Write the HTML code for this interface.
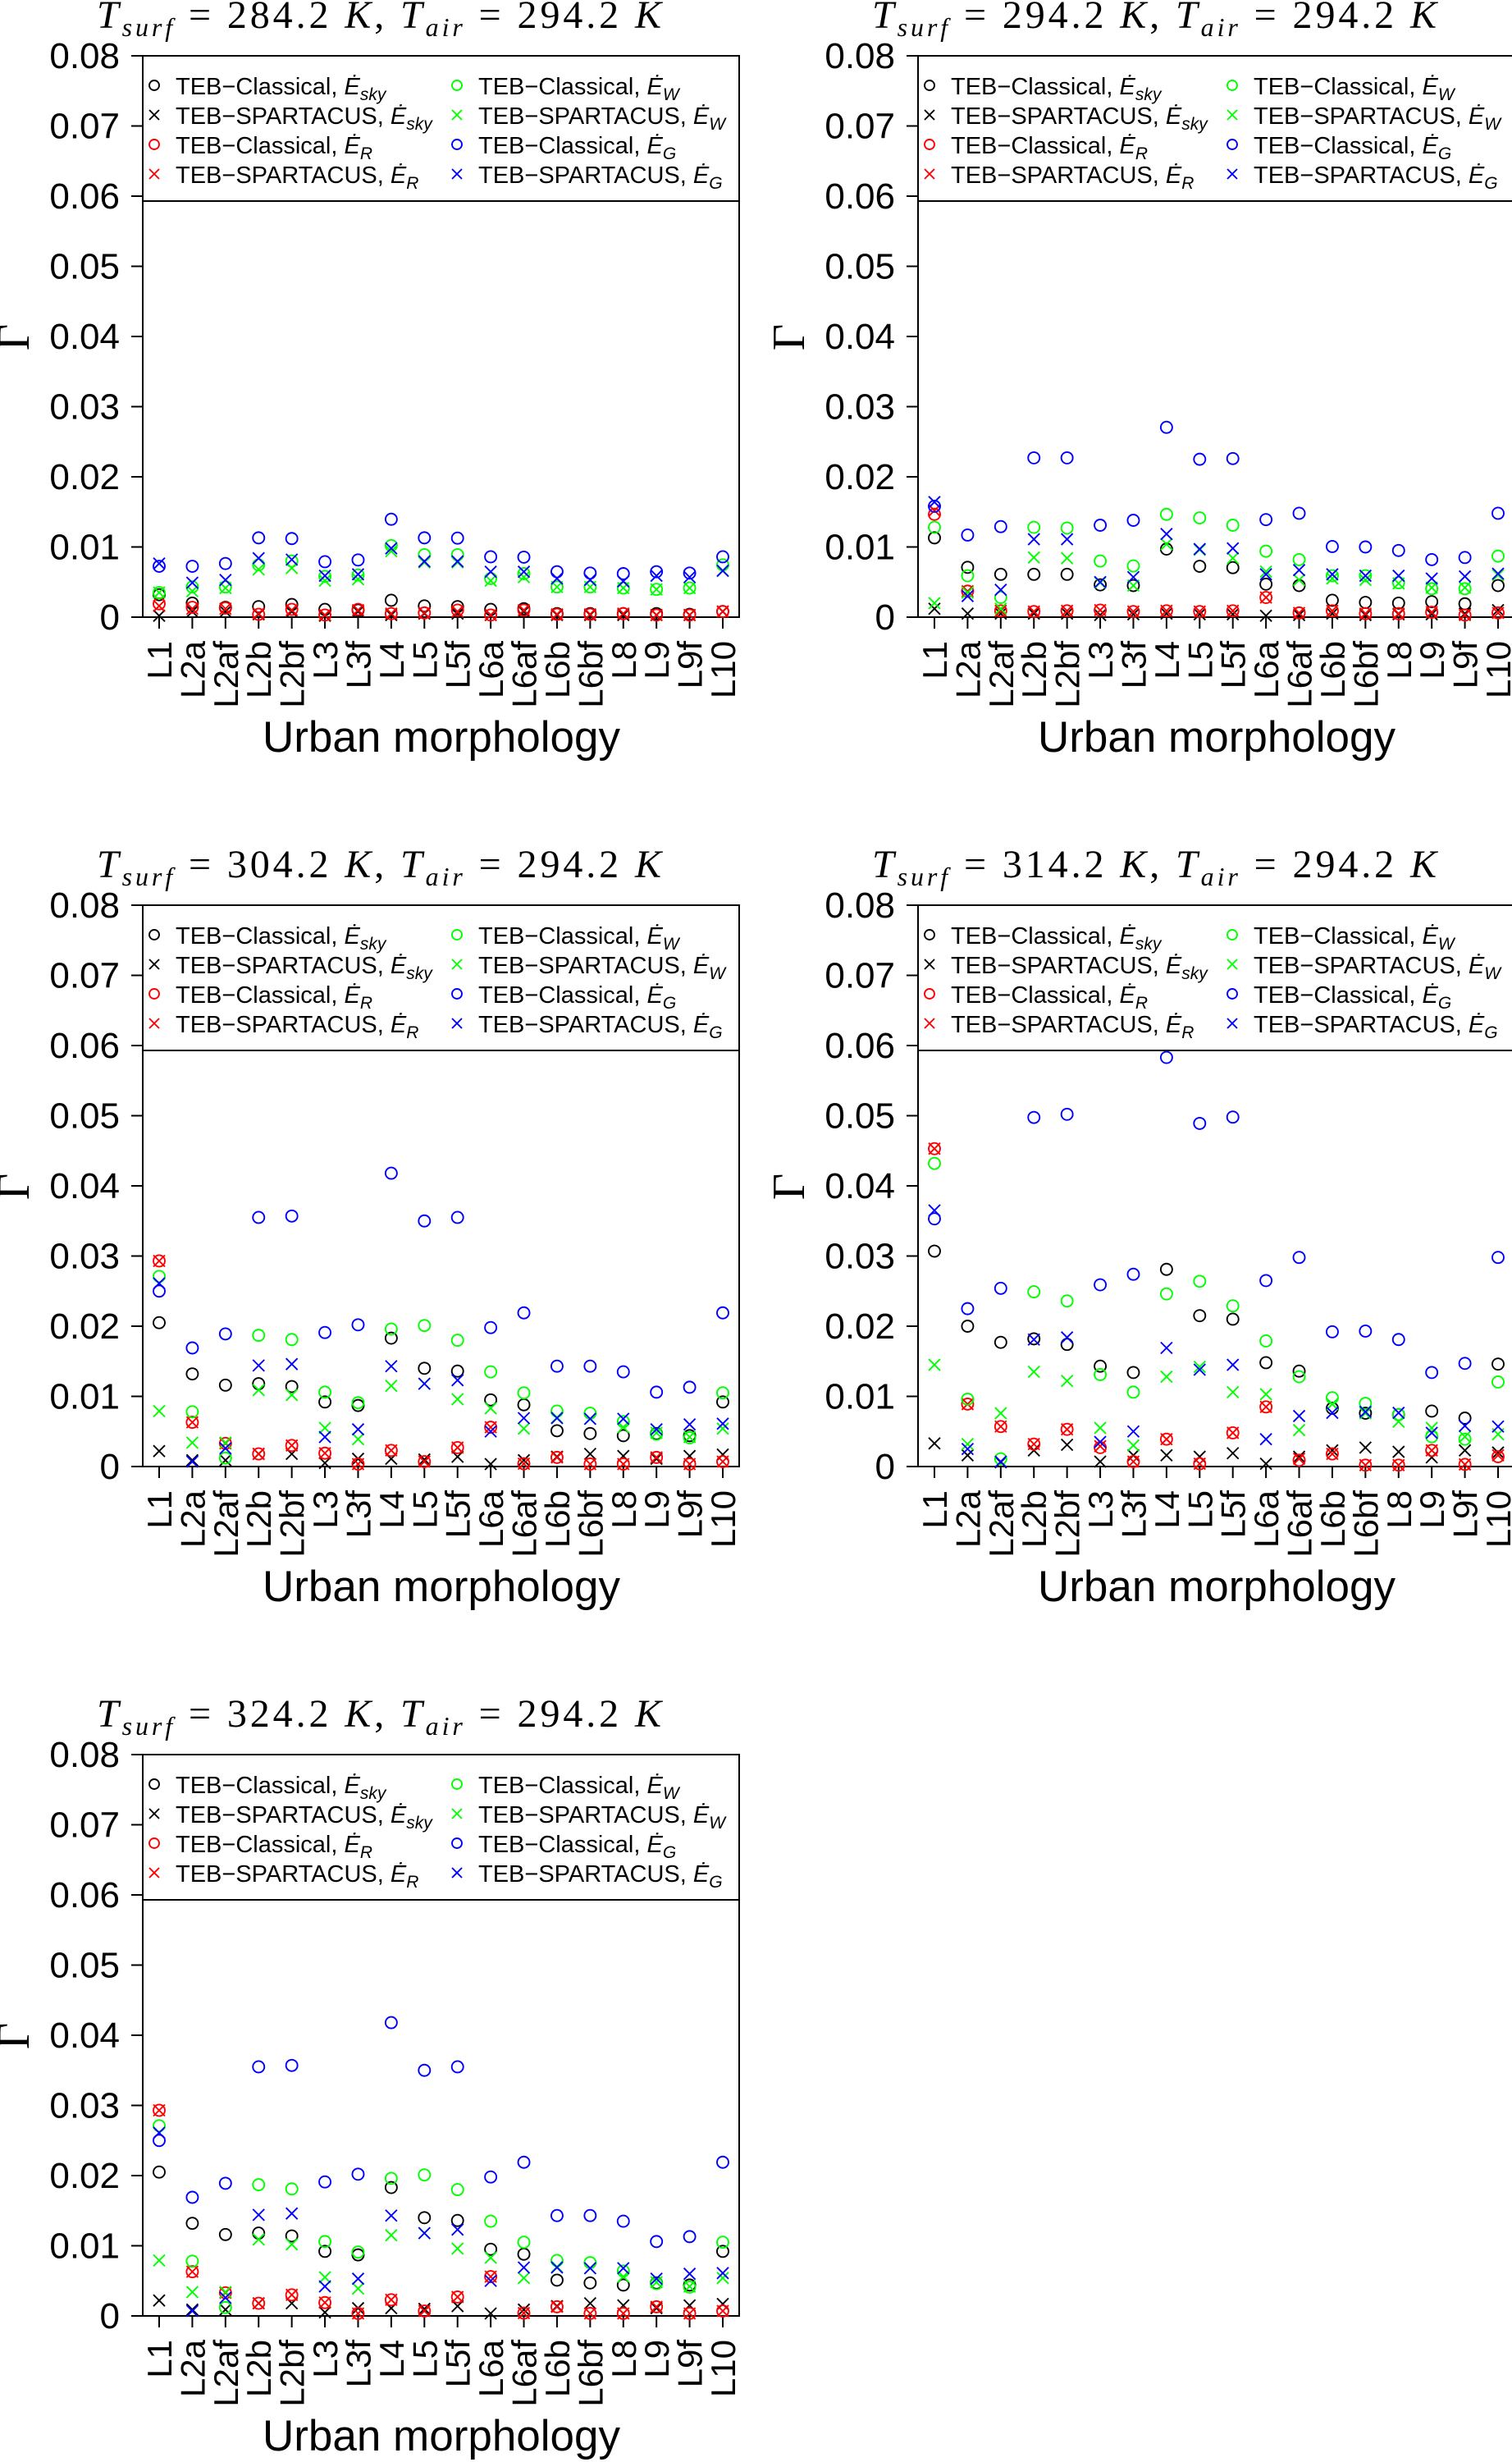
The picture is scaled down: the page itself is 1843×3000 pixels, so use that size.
<!DOCTYPE html>
<html><head><meta charset="utf-8"><style>
html,body{margin:0;padding:0;background:#fff;}
svg{display:block;}
</style></head><body>
<svg id="fig" xmlns="http://www.w3.org/2000/svg" width="1843" height="3000" viewBox="0 0 1843 3000"></svg>
<script>
const cats = ["L1","L2a","L2af","L2b","L2bf","L3","L3f","L4","L5","L5f","L6a","L6af","L6b","L6bf","L8","L9","L9f","L10"];
const tickVals = [0,10,20,30,40,50,60,70,80];
const tickLabels = ["0","0.01","0.02","0.03","0.04","0.05","0.06","0.07","0.08"];
const titlesSurf = ["284.2","294.2","304.2","314.2","324.2"];
const titleAir = "294.2";
// values in units of 0.001 (Gamma x 1000)
const skyC_1 = [3.2,2.0,1.4,1.5,1.8,1.1,1.0,2.4,1.6,1.5,1.1,1.2,0.5,0.5,0.5,0.5,0.4,0.8];
const skyS_1 = [0.2,0.8,0.8,0.4,0.8,0.2,0.8,0.3,0.5,0.5,0.3,0.8,0.3,0.3,0.3,0.3,0.3,0.8];
const RC_1 = [1.9,1.4,1.3,0.4,1.1,0.3,1.1,0.5,0.6,1.0,0.3,1.0,0.4,0.4,0.5,0.3,0.3,0.8];
const RS_1 = [1.6,1.2,1.2,0.5,1.0,0.3,1.0,0.5,0.6,0.8,0.3,1.0,0.4,0.4,0.5,0.3,0.3,0.8];
const WC_1 = [3.5,4.3,4.3,7.45,8.0,5.8,6.0,10.2,8.9,8.9,5.5,6.2,4.3,4.3,4.15,3.95,4.15,7.45];
const WS_1 = [3.5,3.7,4.15,6.8,7.0,5.2,5.4,9.4,7.8,7.8,5.2,5.7,4.3,4.3,4.15,3.95,4.15,6.65];
const GC_1 = [7.25,7.25,7.64,11.3,11.2,7.9,8.15,13.95,11.3,11.26,8.6,8.55,6.47,6.28,6.2,6.47,6.28,8.6];
const GS_1 = [7.64,4.9,5.3,8.4,8.2,5.9,6.1,9.8,7.95,7.95,6.47,6.47,5.5,5.3,5.1,5.9,5.7,6.6];
const skyC_2 = [11.3,7.1,6.1,6.1,6.1,4.6,4.5,9.7,7.25,7.05,4.7,4.5,2.4,2.1,2.0,2.2,1.9,4.5];
const skyS_2 = [1.2,0.5,0.5,0.5,0.5,0.3,0.4,0.5,0.4,0.4,0.2,0.3,0.5,0.3,0.4,0.4,0.5,1.0];
const RC_2 = [14.65,3.7,0.9,0.8,0.9,1.0,0.8,0.9,0.8,0.9,2.8,0.6,0.9,0.5,0.5,0.7,0.3,0.6];
const RS_2 = [15.2,3.7,0.9,0.8,0.9,1.0,0.8,0.9,0.8,0.9,2.8,0.6,0.9,0.5,0.5,0.7,0.3,0.6];
const WC_2 = [12.8,5.9,2.8,12.8,12.7,8.0,7.3,14.65,14.15,13.1,9.4,8.2,5.9,5.9,4.9,4.05,4.05,8.7];
const WS_2 = [2.0,3.5,1.2,8.5,8.4,4.9,4.5,10.4,9.6,8.4,6.5,5.3,5.5,5.3,4.8,4.2,4.2,6.0];
const GC_2 = [15.8,11.7,12.9,22.7,22.7,13.1,13.8,27.05,22.5,22.6,13.9,14.8,10.06,10.0,9.5,8.2,8.5,14.8];
const GS_2 = [16.4,3.0,3.9,11.1,11.1,5.0,5.7,11.85,9.7,9.8,6.1,6.7,6.1,5.9,5.9,5.5,5.8,6.2];
const skyC_3 = [20.5,13.2,11.6,11.8,11.4,9.2,8.7,18.3,14.0,13.6,9.5,8.8,5.1,4.7,4.4,4.7,4.4,9.2];
const skyS_3 = [2.2,0.9,0.9,1.8,1.8,0.5,1.1,1.1,1.0,1.4,0.35,0.9,1.4,1.8,1.5,1.1,1.5,1.7];
const RC_3 = [29.3,6.3,3.3,1.8,3.0,1.9,0.35,2.3,0.7,2.7,5.6,0.4,1.3,0.35,0.35,1.3,0.35,0.7];
const RS_3 = [29.3,6.3,3.3,1.8,3.0,1.9,0.35,2.3,0.7,2.7,5.6,0.4,1.3,0.35,0.35,1.3,0.35,0.7];
const WC_3 = [27.1,7.8,1.2,18.7,18.1,10.6,9.1,19.6,20.1,18.0,13.5,10.5,7.9,7.6,6.4,4.6,4.1,10.5];
const WS_3 = [7.9,3.4,3.4,10.9,10.2,5.5,3.9,11.5,11.8,9.6,8.3,5.4,7.0,6.8,5.6,4.8,4.2,5.4];
const GC_3 = [25.0,16.9,18.9,35.5,35.7,19.1,20.2,41.8,35.0,35.5,19.8,21.9,14.3,14.3,13.5,10.6,11.3,21.9];
const GS_3 = [26.1,0.7,2.6,14.4,14.6,4.2,5.3,14.3,11.8,12.3,5.0,6.9,6.9,6.8,6.8,5.3,6.0,6.1];
const skyC_4 = [30.7,20.0,17.7,18.2,17.4,14.3,13.4,28.1,21.5,21.0,14.8,13.6,8.3,7.6,7.4,7.9,6.9,14.6];
const skyS_4 = [3.3,1.6,0.6,2.3,3.1,0.7,1.6,1.6,1.4,1.9,0.4,1.4,2.3,2.7,2.1,1.3,2.3,2.0];
const RC_4 = [45.3,8.9,5.7,3.2,5.3,2.7,0.7,3.9,0.4,4.8,8.5,0.9,1.8,0.2,0.2,2.3,0.3,1.4];
const RS_4 = [45.3,8.9,5.7,3.2,5.3,2.9,0.7,3.9,0.4,4.8,8.5,1.1,1.8,0.2,0.2,2.3,0.3,1.6];
const WC_4 = [43.2,9.6,1.1,24.9,23.6,13.1,10.6,24.6,26.4,22.9,17.9,12.8,9.8,9.0,7.4,4.25,3.9,12.05];
const WS_4 = [14.5,3.2,7.6,13.5,12.2,5.5,3.0,12.8,14.2,10.6,10.3,5.2,8.9,7.6,6.4,5.5,4.25,4.6];
const GC_4 = [35.3,22.5,25.4,49.75,50.2,25.9,27.4,58.3,48.9,49.8,26.5,29.8,19.2,19.3,18.1,13.4,14.7,29.8];
const GS_4 = [36.5,2.5,0.7,18.1,18.4,3.5,5.0,16.9,13.8,14.5,3.9,7.2,7.65,7.8,7.65,4.8,5.8,5.7];
const skyC_5 = [20.5,13.2,11.6,11.8,11.4,9.2,8.7,18.3,14.0,13.6,9.5,8.8,5.1,4.7,4.4,4.7,4.4,9.2];
const skyS_5 = [2.2,0.9,0.9,1.8,1.8,0.5,1.1,1.1,1.0,1.4,0.35,0.9,1.4,1.8,1.5,1.1,1.5,1.7];
const RC_5 = [29.3,6.3,3.3,1.8,3.0,1.9,0.35,2.3,0.7,2.7,5.6,0.4,1.3,0.35,0.35,1.3,0.35,0.7];
const RS_5 = [29.3,6.3,3.3,1.8,3.0,1.9,0.35,2.3,0.7,2.7,5.6,0.4,1.3,0.35,0.35,1.3,0.35,0.7];
const WC_5 = [27.1,7.8,1.2,18.7,18.1,10.6,9.1,19.6,20.1,18.0,13.5,10.5,7.9,7.6,6.4,4.6,4.1,10.5];
const WS_5 = [7.9,3.4,3.4,10.9,10.2,5.5,3.9,11.5,11.8,9.6,8.3,5.4,7.0,6.8,5.6,4.8,4.2,5.4];
const GC_5 = [25.0,16.9,18.9,35.5,35.7,19.1,20.2,41.8,35.0,35.5,19.8,21.9,14.3,14.3,13.5,10.6,11.3,21.9];
const GS_5 = [26.1,0.7,2.6,14.4,14.6,4.2,5.3,14.3,11.8,12.3,5.0,6.9,6.9,6.8,6.8,5.3,6.0,6.1];

const panelData = [
  [skyC_1,skyS_1,RC_1,RS_1,WC_1,WS_1,GC_1,GS_1],
  [skyC_2,skyS_2,RC_2,RS_2,WC_2,WS_2,GC_2,GS_2],
  [skyC_3,skyS_3,RC_3,RS_3,WC_3,WS_3,GC_3,GS_3],
  [skyC_4,skyS_4,RC_4,RS_4,WC_4,WS_4,GC_4,GS_4],
  [skyC_5,skyS_5,RC_5,RS_5,WC_5,WS_5,GC_5,GS_5]
];
const seriesNames = ["classical-sky","spartacus-sky","classical-r","spartacus-r","classical-w","spartacus-w","classical-g","spartacus-g"];
const seriesColors = ["#000","#000","#ff0000","#ff0000","#00ff00","#00ff00","#0000ff","#0000ff"];
const seriesShapes = ["o","x","o","x","o","x","o","x"];
const legendSub = ["sky","sky","R","R","W","W","G","G"];

const NS = "http://www.w3.org/2000/svg";
const svg = document.getElementById("fig");
function mk(tag, attrs, parent){
  const e = document.createElementNS(NS, tag);
  for (const k in attrs) e.setAttribute(k, attrs[k]);
  parent.appendChild(e);
  return e;
}
const offsets = [[0,0],[945,0],[0,1035],[945,1035],[0,2070]];
const X0=174, X1=901, YT=68, YB=752;
function xScale(i){ return 194 + i*(881-194)/(cats.length-1); }
function yScale(v){ return YB - (v/80)*(YB-YT); }

function drawMarker(g, shape, x, y, color, r){
  if (shape==="o"){
    const c = mk("circle",{cx:x,cy:y,r:r,fill:"none",stroke:color,"stroke-width":1.9},g);
    
    
  } else {
    const p = mk("path",{d:`M${x-r} ${y-r}L${x+r} ${y+r}M${x-r} ${y+r}L${x+r} ${y-r}`,stroke:color,"stroke-width":1.9,fill:"none"},g);
    
    
  }
}

offsets.forEach((off,pi)=>{
  const g = mk("g",{transform:`translate(${off[0]},${off[1]})`},svg);
  
  
  const t = mk("text",{x:462,y:34,"text-anchor":"middle","font-family":"Liberation Serif, serif","font-size":48,textLength:688,lengthAdjust:"spacing"},g);
  
  
  t.innerHTML = `<tspan font-style="italic">T</tspan><tspan font-style="italic" font-size="32" dy="10">surf</tspan><tspan dy="-10">  =  ${titlesSurf[pi]} </tspan><tspan font-style="italic">K</tspan><tspan>, </tspan><tspan font-style="italic">T</tspan><tspan font-style="italic" font-size="32" dy="10">air</tspan><tspan dy="-10">  =  ${titleAir} </tspan><tspan font-style="italic">K</tspan>`;
  const box = mk("rect",{x:X0,y:YT,width:X1-X0,height:YB-YT,fill:"none",stroke:"#000","stroke-width":2},g);
  
  
  tickVals.forEach((tv,ti)=>{
    const y = yScale(tv);
    const l = mk("line",{x1:X0-14,x2:X0,y1:y,y2:y,stroke:"#000","stroke-width":2},g);
    
    
    const tl = mk("text",{x:146,y:y+15,"text-anchor":"end","font-family":"Liberation Sans, sans-serif","font-size":44},g);
    
    
    tl.textContent = tickLabels[ti];
  });
  cats.forEach((c,i)=>{
    const x = xScale(i);
    const l = mk("line",{x1:x,x2:x,y1:YB,y2:YB+14,stroke:"#000","stroke-width":2},g);
    
    
    const tl = mk("text",{x:0,y:0,"text-anchor":"end","font-family":"Liberation Sans, sans-serif","font-size":42,transform:`translate(${x+15},${YB+29}) rotate(-90)`},g);
    
    
    tl.textContent = c;
  });
  const xt = mk("text",{x:538,y:916,"text-anchor":"middle","font-family":"Liberation Sans, sans-serif","font-size":53},g);
  
  
  xt.textContent = "Urban morphology";
  const yt = mk("text",{x:0,y:0,"text-anchor":"middle","font-family":"Liberation Serif, serif","font-size":56,transform:`translate(35,411) rotate(-90)`},g);
  
  
  yt.textContent = "Γ";
  const lg = mk("g",{},g);
  
  
  const sep = mk("line",{x1:X0,x2:X1,y1:245,y2:245,stroke:"#000","stroke-width":2},lg);
  
  
  [0,1,2,3,4,5,6,7].forEach((si,k)=>{
    const col = k<4?0:1, row = k%4;
    const mx = col===0?188:557, tx = col===0?214:583, yy = 104+row*36;
    const eg = mk("g",{},lg);
    
    
    drawMarker(eg, seriesShapes[si], mx, yy, seriesColors[si], 6);
    const lab = (si%2===0)?"TEB−Classical, ":"TEB−SPARTACUS, ";
    const tt = mk("text",{x:tx,y:yy+11,"font-family":"Liberation Sans, sans-serif","font-size":29},eg);
    tt.innerHTML = `${lab}<tspan font-style="italic">Ė</tspan><tspan font-style="italic" font-size="21" dy="7">${legendSub[si]}</tspan>`;
  });
  const data = panelData[pi];
  data.forEach((arr,si)=>{
    const sg = mk("g",{},g);
    
    
    arr.forEach((v,i)=>{
      drawMarker(sg, seriesShapes[si], xScale(i), yScale(v), seriesColors[si], 7);
    });
  });
});
</script>
</body></html>
